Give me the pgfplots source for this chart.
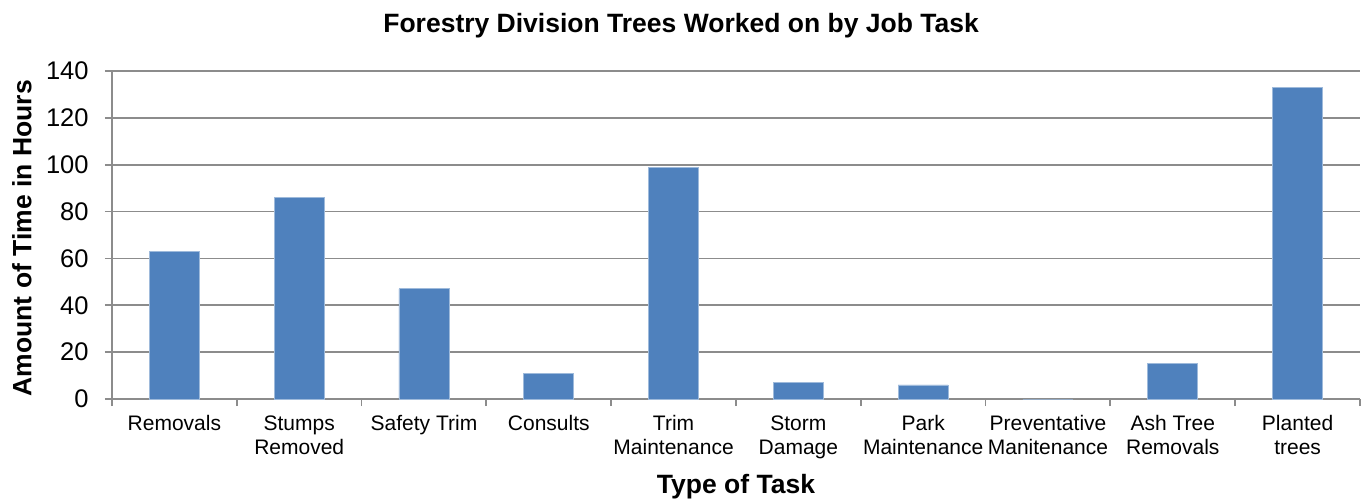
\documentclass[border=0pt]{standalone}
\usepackage{fontspec}
\setmainfont{Liberation Sans}
\usepackage{pgfplots}
\pgfplotsset{compat=1.18}
\definecolor{barblue}{RGB}{79,129,189}
\definecolor{gridgray}{RGB}{140,140,140}
\begin{document}
\begin{tikzpicture}
\path[use as bounding box] (-56pt,-50.5pt) rectangle (624.5pt,199.5pt);
\begin{axis}[
  at={(0,0)}, anchor=south west,
  scale only axis, width=624pt, height=164pt,
  xmin=-0.5, xmax=9.5, ymin=0, ymax=140,
  axis lines=left,
  axis line style={-, draw=gridgray, line width=0.9pt},
  tick align=outside,
  major tick length=3.5pt,
  tick style={draw=gridgray, line width=0.9pt},
  ymajorgrids, grid style={draw=gridgray, line width=0.9pt},
  ytick={0,20,...,140},
  xtick={-0.5,0.5,...,9.5},
  x tick label as interval,
  xticklabels={Removals,{Stumps\\Removed},Safety Trim,Consults,{Trim\\Maintenance},{Storm\\Damage},{Park\\Maintenance},{Preventative\\Manitenance},{Ash Tree\\Removals},{Planted\\trees}},
  xticklabel style={font=\fontsize{10.5}{12}\selectfont, align=center, anchor=north, inner sep=0pt, yshift=-4.5pt},
  yticklabel style={font=\fontsize{12.75}{14}\selectfont, anchor=east, inner sep=0pt, xshift=-8pt},
  /pgf/number format/assume math mode=true,
  title={Forestry Division Trees Worked on by Job Task},
  title style={font=\fontsize{13.25}{15}\bfseries, at={(axis description cs:0.456,1)}, anchor=base, yshift=13.5pt},
  xlabel={Type of Task},
  xlabel style={font=\fontsize{13.25}{15}\bfseries, at={(axis description cs:0.5,0)}, anchor=base, yshift=-47pt},
  ylabel={Amount of Time in Hours},
  ylabel style={font=\fontsize{13.25}{15}\bfseries, at={(axis description cs:-0.0721,0.49)}, anchor=center},
]
\addplot[ybar, bar width=25pt, fill=barblue, draw=barblue!55!white, line width=0.4pt] coordinates {
  (0,63) (1,86) (2,47) (3,11) (4,99) (5,7) (6,6) (7,0) (8,15) (9,133)
};
\end{axis}
\end{tikzpicture}
\end{document}
